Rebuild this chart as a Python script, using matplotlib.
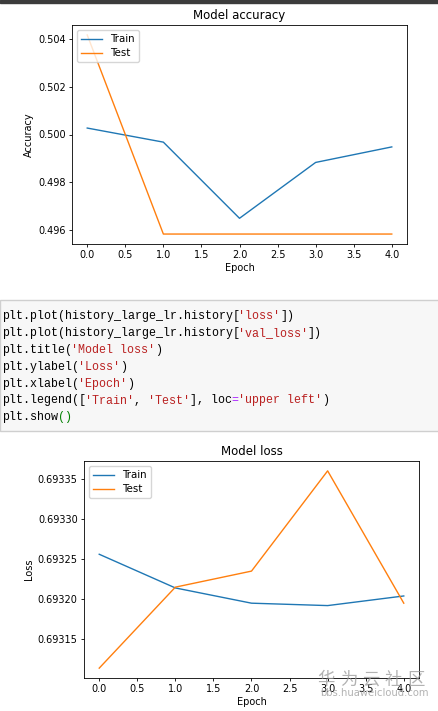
import matplotlib
matplotlib.use('Agg')
import matplotlib.pyplot as plt

epochs = [0, 1, 2, 3, 4]
acc_train = [0.50027, 0.49968, 0.49649, 0.49883, 0.49948]
acc_test = [0.50417, 0.49583, 0.49583, 0.49583, 0.49583]
loss_train = [0.693256, 0.693214, 0.693195, 0.693192, 0.693204]
loss_test = [0.693114, 0.693215, 0.693235, 0.693360, 0.693195]

code_lines = [
    [("plt.plot(history_large_lr.history[", 'k'), ("'loss'", '#BA2121'), ("])", 'k')],
    [("plt.plot(history_large_lr.history[", 'k'), ("'val_loss'", '#BA2121'), ("])", 'k')],
    [("plt.title(", 'k'), ("'Model loss'", '#BA2121'), (")", 'k')],
    [("plt.ylabel(", 'k'), ("'Loss'", '#BA2121'), (")", 'k')],
    [("plt.xlabel(", 'k'), ("'Epoch'", '#BA2121'), (")", 'k')],
    [("plt.legend([", 'k'), ("'Train'", '#BA2121'), (", ", 'k'), ("'Test'", '#BA2121'),
     ("], loc", 'k'), ("=", '#AA22FF'), ("'upper left'", '#BA2121'), (")", 'k')],
    [("plt.show", 'k'), ("()", '#008000')],
]
watermark_chars = ['华', '为', '云', '社', '区']

W, H = 439, 711
fig = plt.figure(figsize=(W / 100, H / 100), dpi=100)
fs = 7

def px_axes(l, t, r, b):
    return fig.add_axes([l / W, 1 - b / H, (r - l) / W, (b - t) / H])

def style(ax, title, ylabel):
    ax.set_title(title, fontsize=8.5, pad=4)
    ax.set_ylabel(ylabel, fontsize=fs, labelpad=3)
    ax.set_xlabel('Epoch', fontsize=fs, labelpad=2)
    ax.tick_params(labelsize=fs, length=2.5, width=0.6, pad=2)
    for s in ax.spines.values():
        s.set_linewidth(0.6)
    ax.legend(['Train', 'Test'], loc='upper left', fontsize=7.4,
              handlelength=2.0, borderpad=0.4, labelspacing=0.4)

# top strip
fig.patches.append(plt.Rectangle((0, 1 - 3 / H), 1, 3 / H, transform=fig.transFigure,
                                 color='#3c3c3c', zorder=0))

ax1 = px_axes(72, 25, 407, 244)
ax1.plot(epochs, acc_train, color='#1f77b4', lw=1.0)
ax1.plot(epochs, acc_test, color='#ff7f0e', lw=1.0)
ax1.set_yticks([0.496, 0.498, 0.500, 0.502, 0.504])
ax1.set_xticks([0, 0.5, 1, 1.5, 2, 2.5, 3, 3.5, 4])
style(ax1, 'Model accuracy', 'Accuracy')

# code cell
fig.patches.append(plt.Rectangle((0, 1 - 431 / H), 1, 131 / H, transform=fig.transFigure,
                                 facecolor='#f7f7f7', edgecolor='#cfcfcf', lw=1.0, zorder=0))
cw = 6.95
for i, segs in enumerate(code_lines):
    y = 316 + i * 16.9
    n = 0
    for txt, col in segs:
        fig.text((2 + n * cw) / W, 1 - y / H, txt, color=col, fontsize=cw / (0.6 * 100 / 72),
                 family='Liberation Mono', va='center', ha='left')
        n += len(txt)

ax2 = px_axes(84, 461, 419, 678)
ax2.plot(epochs, loss_train, color='#1f77b4', lw=1.0)
ax2.plot(epochs, loss_test, color='#ff7f0e', lw=1.0)
ax2.set_yticks([0.69315, 0.69320, 0.69325, 0.69330, 0.69335])
ax2.set_yticklabels(['0.69315', '0.69320', '0.69325', '0.69330', '0.69335'])
ax2.set_xticks([0, 0.5, 1, 1.5, 2, 2.5, 3, 3.5, 4])
style(ax2, 'Model loss', 'Loss')

# watermark
for i, ch in enumerate(watermark_chars):
    fig.text((326 + i * 22.5) / W, 1 - 680 / H, ch, fontsize=12.5, color='#999999', alpha=0.75,
             family=['Noto Sans CJK SC', 'DejaVu Sans'], ha='center', va='center', zorder=10)
fig.text(374 / W, 1 - 693 / H, 'bbs.huaweicloud.com', fontsize=7.2, color='#999999', alpha=0.75,
         ha='center', va='center', zorder=10)

fig.savefig('out.png', dpi=100)
